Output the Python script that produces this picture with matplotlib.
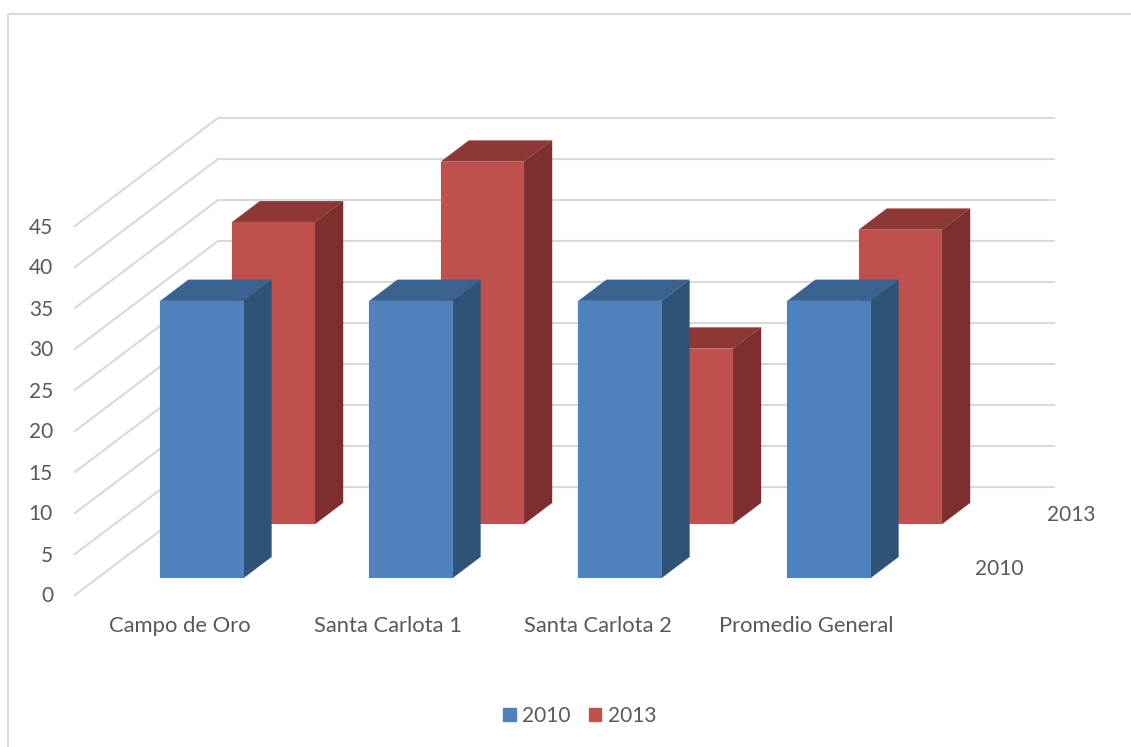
import matplotlib
matplotlib.use('Agg')  # Headless backend
import matplotlib.pyplot as plt
from matplotlib.patches import Patch

# Chart data
categories = ['Campo de Oro', 'Santa Carlota 1', 'Santa Carlota 2', 'Promedio General']
series_names = ['2010', '2013']
values_2010 = [33.8, 33.8, 33.8, 33.8]
values_2013 = [36.8, 44.2, 21.4, 35.9]
y_ticks = [0, 5, 10, 15, 20, 25, 30, 35, 40, 45]

# Oblique projection, in figure pixels
ORIGIN_X, ORIGIN_Y = 75, 595
CAT_W = 209
DEPTH_X, DEPTH_Y = 143, -108
PX_PER_UNIT = 8.2
BAR_W = 0.398
BAR_D = 0.196
SERIES_DEPTH = [0.255, 0.755]

GRID = '#d9d9d9'
TEXT = '#595959'
FONT = 'Lato'
NUM_SIZE = 15
CAT_SIZE = 15.8
BLUE = {'front': '#4f81bd', 'side': '#2f5277', 'top': '#3c628f'}
RED = {'front': '#c0504d', 'side': '#7c2f2e', 'top': '#8e3836'}


def project(x, depth, value):
    """Category position, depth (0-1) and value to pixel coordinates."""
    return (ORIGIN_X + x * CAT_W + depth * DEPTH_X,
            ORIGIN_Y + depth * DEPTH_Y - value * PX_PER_UNIT)


def draw_bar(ax, center, depth, value, colors):
    x0, x1 = center - BAR_W / 2, center + BAR_W / 2
    d0, d1 = depth - BAR_D / 2, depth + BAR_D / 2
    front = [project(x0, d0, 0), project(x1, d0, 0), project(x1, d0, value), project(x0, d0, value)]
    side = [project(x1, d0, 0), project(x1, d1, 0), project(x1, d1, value), project(x1, d0, value)]
    top = [project(x0, d0, value), project(x1, d0, value), project(x1, d1, value), project(x0, d1, value)]
    for pts, key in ((side, 'side'), (top, 'top'), (front, 'front')):
        ax.fill(*zip(*pts), color=colors[key], lw=0.1, zorder=3)


fig = plt.figure(figsize=(11.31, 7.47), dpi=100)
ax = fig.add_axes([0, 0, 1, 1])
ax.set_xlim(0, 1131)
ax.set_ylim(747, 0)
ax.axis('off')

# Outer chart frame
ax.plot([8, 8, 1131], [747, 13.5, 13.5], color=GRID, lw=1.5, zorder=1)

# Walls: gridlines run along the side wall and then the back wall
n_cat = len(categories)
for tick in y_ticks:
    pts = [project(0, 0, tick), project(0, 1, tick), project(n_cat, 1, tick)]
    ax.plot(*zip(*pts), color=GRID, lw=1.5, zorder=1, solid_joinstyle='miter')
    px, py = project(0, 0, tick)
    ax.text(px - 22, py + 1.5, str(tick), ha='right', va='center', color=TEXT,
            fontsize=NUM_SIZE, family=FONT)

# Back series first so the front one covers it
for i, val in enumerate(values_2013):
    draw_bar(ax, i + 0.5, SERIES_DEPTH[1], val, RED)
for i, val in enumerate(values_2010):
    draw_bar(ax, i + 0.5, SERIES_DEPTH[0], val, BLUE)

# Category labels
for i, name in enumerate(categories):
    px, py = project(i + 0.5, 0, 0)
    ax.text(px, py + 31, name, ha='center', va='center', color=TEXT,
            fontsize=CAT_SIZE, family=FONT)

# Series labels on the depth axis
for name, depth in zip(series_names, SERIES_DEPTH):
    px, py = project(n_cat, depth, 0)
    ax.text(px + 28, py + 1.5, name, ha='left', va='center', color=TEXT,
            fontsize=NUM_SIZE, family=FONT)

handles = [Patch(color=BLUE['front'], label=series_names[0]),
           Patch(color=RED['front'], label=series_names[1])]
fig.legend(handles=handles, loc='center', bbox_to_anchor=(579.5 / 1131, 1 - 716 / 747), ncol=2,
           frameon=False, handlelength=0.62, handleheight=0.62, handletextpad=0.29,
           columnspacing=0.87, labelcolor=TEXT, prop={'family': FONT, 'size': NUM_SIZE})

fig.savefig('out.png', dpi=100)
plt.close(fig)
